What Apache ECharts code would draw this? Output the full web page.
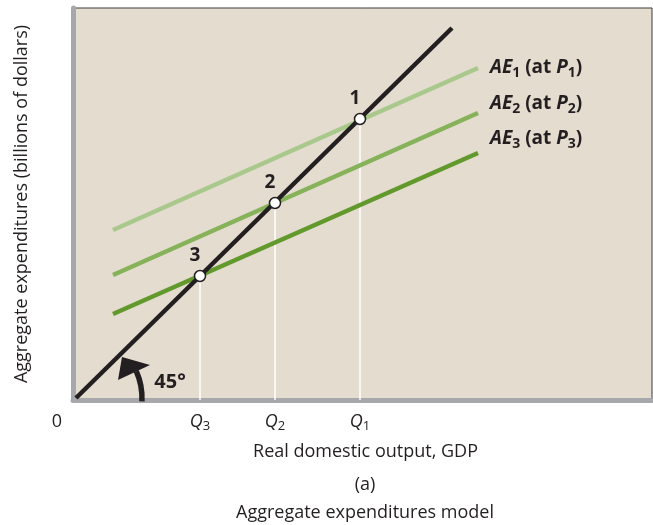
<!DOCTYPE html>
<html><head><meta charset="utf-8">
<script src="https://cdn.jsdelivr.net/npm/echarts@6/dist/echarts.min.js"></script>
<style>html,body{margin:0;padding:0;background:#fff}#c{width:653px;height:525px}</style>
</head><body><div id="c"></div>
<script>
// Data (arbitrary units; 45° line is y = x-ish)
var line45 = [[3, 2], [379, 372]];
var ae1 = [[40, 170], [405, 332]];
var ae2 = [[40, 125], [405, 287]];
var ae3 = [[40, 86], [405, 247]];
var equilibria = [[287, 281], [202, 197], [127, 124]];
var equilibriumLabels = ['1', '2', '3'];
var tickValues = [0, 127, 202, 287];
var tickLabels = ['0', 'Q3', 'Q2', 'Q1'];
var aeNames = ['1', '2', '3'];

var FONT = '"Open Sans", Lato, sans-serif';
var BG = '#e5dcd0', AXIS = '#a6a8ab', BLACK = '#231f20';
var greens = ['#a9c98c', '#86b25a', '#62992c'];
var labelOffsets = [[0, 0], [0, -9], [0, -14]];

var chart = echarts.init(document.getElementById('c'));

function aeLabel(n) {
  return '{ae|AE}{sub|' + n + '}{p| (at }{ae|P}{sub|' + n + '}{p|)}';
}
var aeRich = {
  ae: {fontFamily: FONT, fontSize: 19, fontWeight: 'bold', fontStyle: 'italic', color: BLACK, lineHeight: 24, verticalAlign: 'middle'},
  p: {fontFamily: FONT, fontSize: 19, fontWeight: 'bold', color: BLACK, lineHeight: 24, verticalAlign: 'middle'},
  sub: {fontFamily: FONT, fontSize: 14, fontWeight: 'bold', color: BLACK, verticalAlign: 'bottom', lineHeight: 16}
};

var series = [];
equilibria.forEach(function (p) {
  series.push({type: 'line', data: [[p[0], 0], p], symbol: 'none', silent: true,
    lineStyle: {color: '#ffffff', width: 1.5}, z: 1});
});
[ae1, ae2, ae3].forEach(function (d, i) {
  series.push({type: 'line', data: d, symbol: 'none', z: 2,
    lineStyle: {color: greens[i], width: 4.5},
    endLabel: {show: true, distance: 12, offset: labelOffsets[i],
      formatter: aeLabel(aeNames[i]), rich: aeRich}});
});
series.push({type: 'line', data: line45, symbol: 'none', z: 3,
  lineStyle: {color: BLACK, width: 4.5}});
series.push({type: 'scatter', data: equilibria, symbolSize: 11, z: 4,
  itemStyle: {color: '#ffffff', borderColor: BLACK, borderWidth: 1.5, opacity: 1},
  label: {show: true, position: 'top', distance: 5, offset: [-5, 0],
    formatter: function (p) { return equilibriumLabels[p.dataIndex]; },
    fontFamily: FONT, fontSize: 19, fontWeight: 'bold', color: BLACK}});

chart.setOption({
  animation: false,
  backgroundColor: '#ffffff',
  grid: {left: 73, right: 1, top: 8, bottom: 125, show: true, backgroundColor: BG,
    borderColor: '#3a3a3a', borderWidth: 1},
  xAxis: {type: 'value', min: 0, max: 579,
    axisLine: {lineStyle: {color: AXIS, width: 5}},
    axisTick: {show: false}, splitLine: {show: false},
    axisLabel: {customValues: tickValues, margin: 11,
      formatter: function (v) {
        var i = tickValues.indexOf(v);
        var t = tickLabels[i];
        if (t === '0') return '{z|0}';
        return '{q|' + t.charAt(0) + '}{s|' + t.slice(1) + '}';
      },
      rich: {
        z: {fontFamily: FONT, fontSize: 18, color: BLACK, padding: [0, 32, 0, 0], lineHeight: 22},
        q: {fontFamily: FONT, fontSize: 18, fontStyle: 'italic', color: BLACK, lineHeight: 22},
        s: {fontFamily: FONT, fontSize: 13, color: BLACK, verticalAlign: 'bottom', lineHeight: 15}
      }},
    name: 'Real domestic output, GDP', nameLocation: 'middle', nameGap: 43,
    nameTextStyle: {fontFamily: FONT, fontSize: 18, color: BLACK, padding: [0, 0, 0, 6]}},
  yAxis: {type: 'value', min: 0, max: 392,
    axisLine: {lineStyle: {color: AXIS, width: 5}},
    axisTick: {show: false}, splitLine: {show: false}, axisLabel: {show: false},
    name: 'Aggregate expenditures (billions of dollars)', nameLocation: 'middle', nameGap: 42,
    nameTextStyle: {fontFamily: FONT, fontSize: 18, color: BLACK}},
  series: series
});

var c = chart.convertToPixel({gridIndex: 0}, line45[0]);
var cx = c[0], cy = c[1];
chart.setOption({graphic: [
  {type: 'arc', shape: {cx: cx, cy: cy, r: 66, startAngle: -0.42, endAngle: 0.05, clockwise: true},
    style: {stroke: BLACK, lineWidth: 5.5, fill: null}, z: 10},
  {type: 'polygon', shape: {points: [[cx + 46, cy - 41], [cx + 74, cy - 33], [cx + 42, cy - 18]]},
    style: {fill: BLACK}, z: 10},
  {type: 'text', x: cx + 94, y: cy - 16, style: {text: '45°', font: 'bold 20px ' + FONT, fill: BLACK,
    align: 'center', verticalAlign: 'middle'}, z: 10},
  {type: 'text', x: 365, y: 485, style: {text: '(a)', font: '18px ' + FONT, fill: BLACK,
    align: 'center', verticalAlign: 'middle'}},
  {type: 'text', x: 365, y: 513, style: {text: 'Aggregate expenditures model', font: '18px ' + FONT, fill: BLACK,
    align: 'center', verticalAlign: 'middle'}}
]});
</script></body></html>
